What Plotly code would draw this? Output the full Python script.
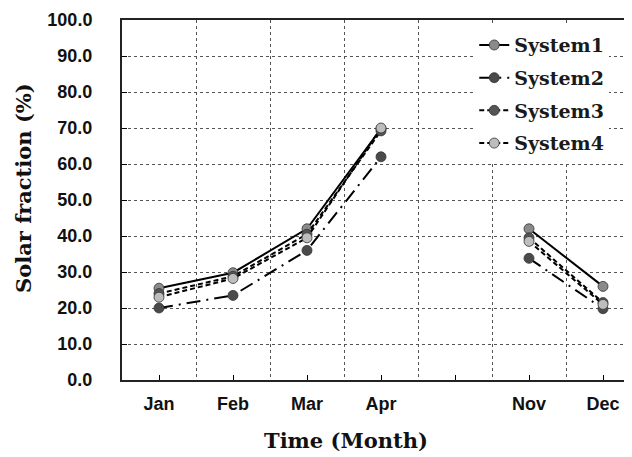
import plotly.graph_objects as go

months = ["Jan", "Feb", "Mar", "Apr", "", "Nov", "Dec"]
system1 = [25.5, 29.8, 42.0, 69.8, None, 42.0, 26.0]
system2 = [20.0, 23.5, 36.0, 62.0, None, 33.8, 19.8]
system3 = [24.0, 28.8, 40.5, 69.2, None, 39.5, 21.5]
system4 = [23.0, 28.2, 39.5, 70.0, None, 38.5, 21.0]
y_ticks = [0, 10, 20, 30, 40, 50, 60, 70, 80, 90, 100]
x_title = "Time (Month)"
y_title = "Solar fraction (%)"

x_idx = list(range(len(months)))

series = [
    ("System1", system1, "solid", "#8a8a8a"),
    ("System2", system2, "14px,6px,2px,6px", "#4a4a4a"),
    ("System3", system3, "5px,3px", "#555555"),
    ("System4", system4, "5px,3px", "#bdbdbd"),
]

fig = go.Figure()
for i, (name, vals, dash, mcol) in enumerate(series):
    fig.add_trace(go.Scatter(
        x=x_idx, y=vals, name=name, mode="lines+markers",
        connectgaps=False, legendgroup=name,
        line=dict(color="black", width=2, dash=dash),
        marker=dict(symbol="circle", size=10, color=mcol,
                    line=dict(color="#333333", width=0.8)),
    ))

# page body adds an 8px offset; margins compensate for it
fig.update_layout(
    width=632, height=457,
    margin=dict(l=114, r=0, t=12, b=85, autoexpand=False),
    paper_bgcolor="white", plot_bgcolor="white",
    showlegend=True,
    legend=dict(
        x=0.68, y=0.983, xanchor="left", yanchor="top",
        bgcolor="white", borderwidth=0,
        font=dict(family="DejaVu Serif", size=19, color="#1a1a1a", weight="bold"),
        tracegroupgap=5, traceorder="grouped",
    ),
    xaxis=dict(
        range=[-0.5, 6.5], automargin=False,
        tickmode="array", tickvals=x_idx, ticktext=months,
        ticks="inside", ticklen=5, tickwidth=1, tickcolor="black",
        ticklabelstandoff=6,
        showgrid=False, zeroline=False,
        showline=True, linecolor="#222222", linewidth=2, mirror=True,
        tickfont=dict(family="Liberation Sans", size=18, color="#111111", weight="bold"),
        minor=dict(tickvals=[0.5, 1.5, 2.5, 3.5, 4.5, 5.5],
                   showgrid=True, gridcolor="#555555", griddash="dot", gridwidth=1,
                   ticks=""),
    ),
    yaxis=dict(
        range=[0, 100], automargin=False,
        tickmode="array", tickvals=y_ticks,
        ticktext=[f"{v:.1f}" for v in y_ticks],
        ticks="inside", ticklen=5, tickcolor="black",
        ticklabelstandoff=24,
        showgrid=True, gridcolor="#555555", griddash="dot", gridwidth=1,
        zeroline=False,
        showline=True, linecolor="#222222", linewidth=2,
        tickfont=dict(family="Liberation Sans", size=18, color="#111111", weight="bold"),
    ),
    annotations=[
        dict(text=x_title, xref="paper", yref="paper",
             x=(338 - 114) / 518, y=-(432 - 372) / 360,
             xanchor="center", yanchor="middle", showarrow=False,
             font=dict(family="DejaVu Serif", size=21, color="#111111", weight="bold")),
        dict(text=y_title, xref="paper", yref="paper",
             x=-(114 - 15) / 518, y=(372 - 180) / 360, textangle=-90,
             xanchor="center", yanchor="middle", showarrow=False,
             font=dict(family="DejaVu Serif", size=21, color="#111111", weight="bold")),
    ],
)

fig.write_html("out.html")
